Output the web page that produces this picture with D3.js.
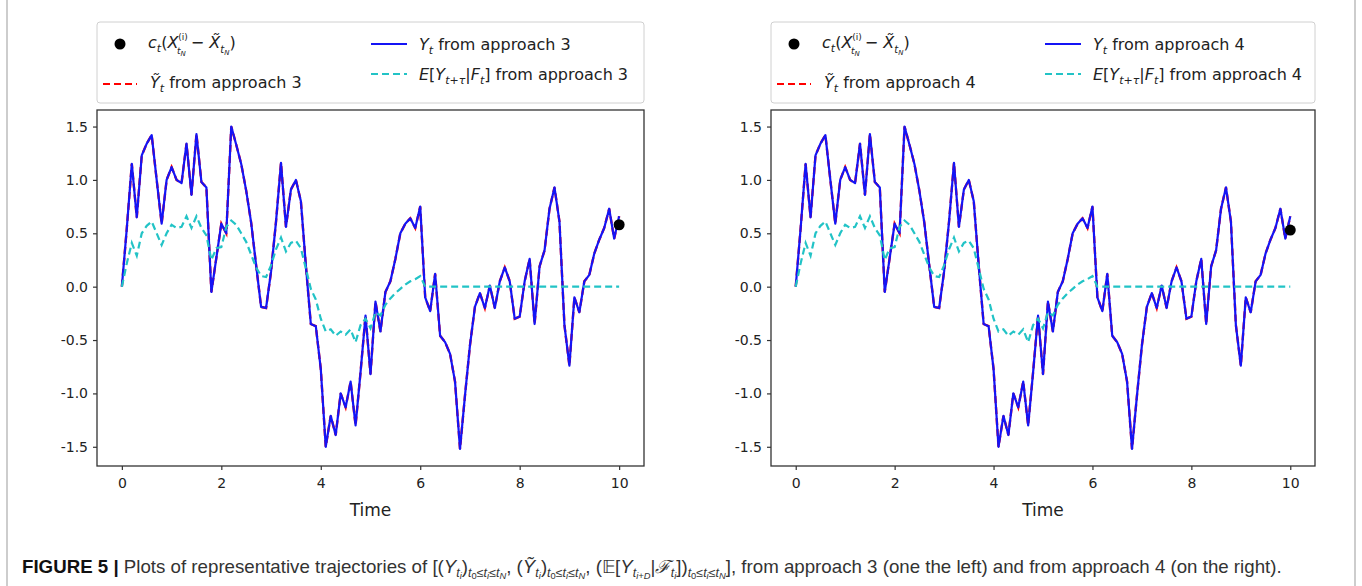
<!DOCTYPE html>
<html>
<head>
<meta charset="utf-8">
<script src="https://cdn.jsdelivr.net/npm/d3@7"></script>
<style>
  body { margin: 0; background: #fff; }
  svg { display: block; }
</style>
</head>
<body>
<div id="chart"></div>
<script>
// sampling grid of the trajectories (dt = 0.1 from 0 to 10)
const timeGrid = d3.range(0, 101).map(i => i / 10);

// Y_t trajectory (same sample path in both panels)
const yValues = [
  0.0, 0.55, 1.15, 0.65, 1.23, 1.34, 1.42, 1.0, 0.59, 1.0,
  1.12, 1.0, 0.97, 1.34, 0.86, 1.43, 0.98, 0.93, -0.05, 0.27,
  0.59, 0.5, 1.5, 1.33, 1.15, 0.9, 0.6, 0.2, -0.19, -0.2,
  0.14, 0.61, 1.16, 0.56, 0.91, 1.0, 0.8, 0.2, -0.35, -0.37,
  -0.77, -1.5, -1.21, -1.39, -1.0, -1.13, -0.89, -1.3, -0.8, -0.27,
  -0.82, -0.14, -0.42, -0.05, 0.05, 0.26, 0.5, 0.59, 0.64, 0.55,
  0.75, -0.1, -0.23, 0.12, -0.46, -0.52, -0.63, -0.89, -1.52, -1.02,
  -0.55, -0.19, -0.06, -0.2, 0.01, -0.2, 0.05, 0.18, 0.05, -0.3,
  -0.28, 0.05, 0.26, -0.35, 0.19, 0.34, 0.73, 0.93, 0.61, -0.36,
  -0.74, -0.1, -0.24, 0.05, 0.11, 0.31, 0.44, 0.55, 0.73, 0.45,
  0.66
];

// Y~_t (drawn under Y_t, coincides with it)
const yTildeValues = yValues.slice();

// E[Y_{t+tau} | F_t]
const eValues = [
  0.0, 0.22, 0.41, 0.29, 0.5, 0.57, 0.61, 0.5, 0.39, 0.5,
  0.58, 0.55, 0.56, 0.66, 0.55, 0.66, 0.55, 0.48, 0.25, 0.36,
  0.37, 0.56, 0.62, 0.58, 0.5, 0.42, 0.3, 0.18, 0.1, 0.09,
  0.2, 0.35, 0.46, 0.33, 0.41, 0.43, 0.36, 0.17, -0.02, -0.12,
  -0.3, -0.42, -0.4, -0.46, -0.42, -0.45, -0.4, -0.52, -0.36, -0.3,
  -0.39, -0.24, -0.27, -0.17, -0.11, -0.06, -0.02, 0.02, 0.05, 0.07,
  0.1, 0.0, 0.0, 0.0, 0.0, 0.0, 0.0, 0.0, 0.0, 0.0,
  0.0, 0.0, 0.0, 0.0, 0.0, 0.0, 0.0, 0.0, 0.0, 0.0,
  0.0, 0.0, 0.0, 0.0, 0.0, 0.0, 0.0, 0.0, 0.0, 0.0,
  0.0, 0.0, 0.0, 0.0, 0.0, 0.0, 0.0, 0.0, 0.0, 0.0,
  0.0
];

// c_t(X - X~) end point, one per approach
const approaches = [3, 4];
const endPoints = [0.58, 0.53];

const xTicks = [0, 2, 4, 6, 8, 10];
const yTicks = [-1.5, -1.0, -0.5, 0.0, 0.5, 1.0, 1.5];

const W = 1362, H = 586;
const svg = d3.select("#chart").append("svg")
  .attr("width", W).attr("height", H)
  .style("font-family", "'DejaVu Sans', sans-serif");

svg.append("rect").attr("width", W).attr("height", H).attr("fill", "#fff");

// outer frame of figure + caption
svg.append("line").attr("x1", 7).attr("x2", 7).attr("y1", 0).attr("y2", H)
  .attr("stroke", "#bdbdbd").attr("stroke-width", 1.5);
svg.append("line").attr("x1", 1355).attr("x2", 1355).attr("y1", 0).attr("y2", H)
  .attr("stroke", "#bdbdbd").attr("stroke-width", 1.5);

// write a text with sub / superscripts; parts: {s, f, y, i, w, dx}
function mathText(g, x, y, parts, base) {
  const t = g.append("text").attr("x", x).attr("y", y).attr("fill", "#222");
  let cur = 0;
  parts.forEach(p => {
    const off = p.y || 0;
    const ts = t.append("tspan")
      .text(p.s)
      .attr("dy", off - cur)
      .style("font-size", (p.f || base) + "px");
    if (p.i) ts.style("font-style", "italic");
    if (p.w) ts.style("font-weight", p.w);
    if (p.dx) ts.attr("dx", p.dx);
    cur = off;
  });
  return t;
}

const margin = {top: 110, bottom: 466};
const panels = [
  {x0: 97, x1: 644},
  {x0: 771, x1: 1315}
];

const blue = "#1414f5", cyan = "#22c3c6";

panels.forEach((pn, k) => {
  const num = approaches[k];
  const x = d3.scaleLinear().domain([-0.5, 10.5]).range([pn.x0, pn.x1]);
  const y = d3.scaleLinear().domain([-1.68, 1.655]).range([margin.bottom, margin.top]);
  const g = svg.append("g");

  const line = d3.line().x((d, i) => x(timeGrid[i])).y(d => y(d));

  g.append("path").datum(yTildeValues).attr("d", line)
    .attr("fill", "none").attr("stroke", "red").attr("stroke-width", 2.4)
    .attr("stroke-dasharray", "7,4");
  g.append("path").datum(yValues).attr("d", line)
    .attr("fill", "none").attr("stroke", blue).attr("stroke-width", 2.2)
    .attr("stroke-linejoin", "round");
  g.append("path").datum(eValues).attr("d", line)
    .attr("fill", "none").attr("stroke", cyan).attr("stroke-width", 2.2)
    .attr("stroke-dasharray", "7,4");
  g.append("circle")
    .attr("cx", x(10)).attr("cy", y(endPoints[k])).attr("r", 5.5)
    .attr("fill", "#000");

  // frame
  g.append("rect")
    .attr("x", pn.x0).attr("y", margin.top)
    .attr("width", pn.x1 - pn.x0).attr("height", margin.bottom - margin.top)
    .attr("fill", "none").attr("stroke", "#333").attr("stroke-width", 1.3);

  // axes
  const xAxis = d3.axisBottom(x).tickValues(xTicks).tickSize(4).tickPadding(8)
    .tickFormat(d3.format("d"));
  const yAxis = d3.axisLeft(y).tickValues(yTicks).tickSize(4).tickPadding(5)
    .tickFormat(d => d3.format(".1f")(d).replace("\u2212", "-"));
  const gx = g.append("g").attr("transform", `translate(0,${margin.bottom})`).call(xAxis);
  const gy = g.append("g").attr("transform", `translate(${pn.x0},0)`).call(yAxis);
  [gx, gy].forEach(a => {
    a.select(".domain").remove();
    a.selectAll("line").attr("stroke", "#333").attr("stroke-width", 1.2);
    a.selectAll("text").attr("fill", "#222").style("font-size", "14px")
      .style("font-family", "'DejaVu Sans', sans-serif");
  });

  // x label
  g.append("text")
    .attr("x", (pn.x0 + pn.x1) / 2).attr("y", 516)
    .attr("text-anchor", "middle")
    .attr("fill", "#222").style("font-size", "17px")
    .text("Time");

  // legend
  const lg = g.append("g");
  lg.append("rect")
    .attr("x", pn.x0).attr("y", 22).attr("rx", 3)
    .attr("width", pn.x1 - pn.x0).attr("height", 81)
    .attr("fill", "#fff").attr("stroke", "#d0d0d0");
  lg.append("circle").attr("cx", pn.x0 + 23).attr("cy", 44).attr("r", 5.5).attr("fill", "#000");
  mathText(lg, pn.x0 + 51, 48, [
    {s: "c", i: true}, {s: "t", f: 11, y: 4, i: true},
    {s: "(", y: 0}, {s: "X", i: true},
    {s: "(i)", f: 9, y: -8},
    {s: "t", f: 9, y: 6, i: true, dx: -11}, {s: "N", f: 7, y: 8, i: true},
    {s: " \u2212 ", y: 0}, {s: "X\u0303", i: true},
    {s: "t", f: 10, y: 5, i: true}, {s: "N", f: 7, y: 7, i: true},
    {s: ")", y: 0}
  ], 16);

  lg.append("line").attr("x1", pn.x0 + 6).attr("x2", pn.x0 + 40)
    .attr("y1", 84).attr("y2", 84)
    .attr("stroke", "red").attr("stroke-width", 2.2).attr("stroke-dasharray", "7,4");
  mathText(lg, pn.x0 + 53, 88, [
    {s: "Y\u0303", i: true}, {s: "t", f: 11, y: 4, i: true},
    {s: " from approach " + num, y: 0}
  ], 16);

  lg.append("line").attr("x1", pn.x0 + 274).attr("x2", pn.x0 + 310)
    .attr("y1", 44).attr("y2", 44)
    .attr("stroke", blue).attr("stroke-width", 2.2);
  mathText(lg, pn.x0 + 322, 50, [
    {s: "Y", i: true}, {s: "t", f: 11, y: 4, i: true},
    {s: " from approach " + num, y: 0}
  ], 16);

  lg.append("line").attr("x1", pn.x0 + 274).attr("x2", pn.x0 + 310)
    .attr("y1", 74).attr("y2", 74)
    .attr("stroke", cyan).attr("stroke-width", 2.2).attr("stroke-dasharray", "7,4");
  mathText(lg, pn.x0 + 322, 80, [
    {s: "E", i: true}, {s: "["}, {s: "Y", i: true},
    {s: "t", f: 11, y: 4, i: true}, {s: "+", f: 11, y: 4}, {s: "\u03c4", f: 11, y: 4, i: true},
    {s: "|", y: 0}, {s: "F", i: true}, {s: "t", f: 11, y: 4, i: true},
    {s: "]", y: 0}, {s: " from approach " + num}
  ], 16);
});

// caption
const rangeSub = [
  {s: "t", f: 12, y: 4, i: true}, {s: "0", f: 9, y: 6}, {s: "\u2264", f: 12, y: 4},
  {s: "t", f: 12, y: 4, i: true}, {s: "i", f: 9, y: 6, i: true}, {s: "\u2264", f: 12, y: 4},
  {s: "t", f: 12, y: 4, i: true}, {s: "N", f: 9, y: 6, i: true}
];
const capParts = [
  {s: "FIGURE 5 | ", w: 700},
  {s: "Plots of representative trajectories of [("},
  {s: "Y", i: true}, {s: "t", f: 12, y: 4, i: true}, {s: "i", f: 9, y: 6, i: true},
  {s: ")", y: 0}, ...rangeSub,
  {s: ", (", y: 0},
  {s: "Y\u0303", i: true}, {s: "t", f: 12, y: 4, i: true}, {s: "i", f: 9, y: 6, i: true},
  {s: ")", y: 0}, ...rangeSub,
  {s: ", (\ud835\udd3c[", y: 0},
  {s: "Y", i: true}, {s: "t", f: 12, y: 4, i: true}, {s: "i+D", f: 9, y: 6, i: true},
  {s: "|", y: 0}, {s: "\u2131", i: true}, {s: "t", f: 12, y: 4, i: true}, {s: "i", f: 9, y: 6, i: true},
  {s: "])", y: 0}, ...rangeSub,
  {s: "], from approach 3 (one the left) and from approach 4 (on the right).", y: 0}
];
const cap = mathText(svg, 0, 0, capParts, 18)
  .style("font-family", "'Liberation Sans Narrow', 'Liberation Sans', Arial, sans-serif")
  .attr("fill", "#333");
cap.select("tspan").attr("fill", "#111");
const bb = cap.node().getBBox();
const target = 1283 - 22;
cap.attr("transform", `translate(22,573) scale(${target / bb.width},1)`);
</script>
</body>
</html>
